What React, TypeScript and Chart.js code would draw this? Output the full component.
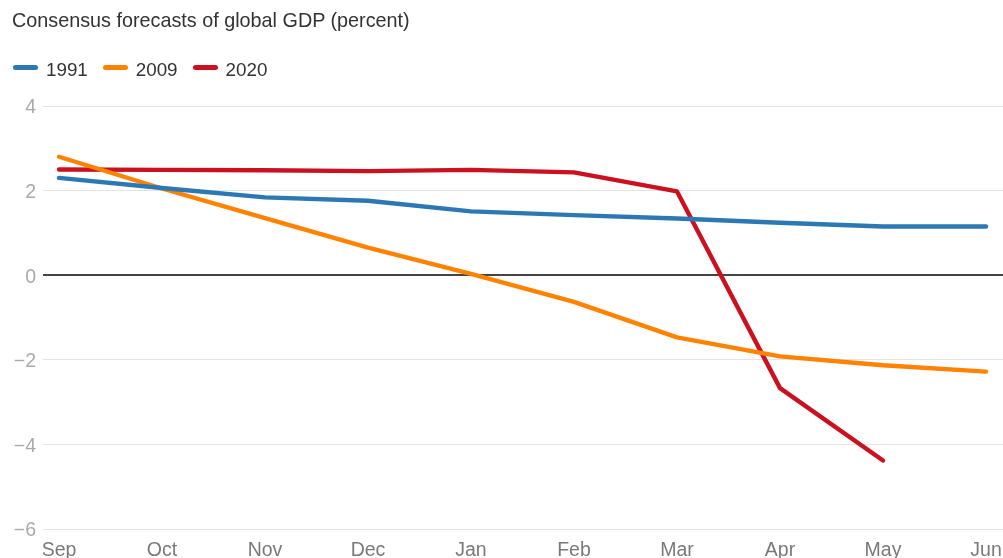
import React, { useEffect, useRef } from "react";
import { Chart, registerables } from "chart.js";

Chart.register(...registerables);

const TITLE = "Consensus forecasts of global GDP (percent)";
const months = ["Sep", "Oct", "Nov", "Dec", "Jan", "Feb", "Mar", "Apr", "May", "Jun"];
const seriesNames = ["1991", "2009", "2020"];
const seriesColors = ["#2b78b4", "#ff8200", "#cb1020"];
const values1991 = [2.3, 2.06, 1.84, 1.76, 1.51, 1.42, 1.34, 1.24, 1.15, 1.15];
const values2009 = [2.8, 2.05, 1.35, 0.65, 0.03, -0.63, -1.47, -1.92, -2.13, -2.28];
const values2020: (number | null)[] = [2.5, 2.49, 2.48, 2.46, 2.49, 2.43, 1.98, -2.67, -4.38, null];
const yTicks = [4, 2, 0, -2, -4, -6];

const FONT = "'Liberation Sans', Arial, Helvetica, sans-serif";

export default function App() {
  const canvasRef = useRef<HTMLCanvasElement | null>(null);

  useEffect(() => {
    const canvas = canvasRef.current;
    if (!canvas) return;
    const all = [values1991, values2009, values2020];
    const chart = new Chart(canvas, {
      type: "line",
      data: {
        datasets: all.map((vals, i) => ({
          label: seriesNames[i],
          data: vals.map((v, j) => ({ x: j, y: v })),
          borderColor: seriesColors[i],
          backgroundColor: seriesColors[i],
          borderWidth: 4.4,
          pointRadius: 0,
          tension: 0,
          borderCapStyle: "round",
          borderJoinStyle: "round",
          spanGaps: false,
        })),
      },
      options: {
        animation: false,
        responsive: false,
        maintainAspectRatio: false,
        layout: { padding: { top: 106, left: 0, right: 0, bottom: 0 } },
        plugins: {
          legend: { display: false },
          title: { display: false },
          tooltip: { enabled: false },
        },
        scales: {
          x: {
            type: "linear",
            min: -0.1553,
            max: 9.165,
            afterBuildTicks: (axis: any) => {
              axis.ticks = months.map((_, i) => ({ value: i }));
            },
            afterFit: (axis: any) => {
              axis.height = 29;
            },
            grid: {
              display: true,
              drawOnChartArea: false,
              drawTicks: true,
              tickLength: 10,
              tickColor: "rgba(0,0,0,0)",
            },
            border: { display: false },
            ticks: {
              padding: 0,
              autoSkip: false,
              maxRotation: 0,
              color: "#7a7a7a",
              font: { family: FONT, size: 19.5 },
              callback: (v: any) => months[Math.round(Number(v))] ?? "",
            },
          },
          y: {
            min: -6,
            max: 4,
            afterBuildTicks: (axis: any) => {
              axis.ticks = yTicks.map((v) => ({ value: v }));
            },
            afterFit: (axis: any) => {
              axis.width = 43;
            },
            grid: {
              drawTicks: false,
              color: (ctx: any) => (ctx.tick && ctx.tick.value === 0 ? "#444444" : "#e4e4e4"),
              lineWidth: (ctx: any) => (ctx.tick && ctx.tick.value === 0 ? 2 : 1),
            },
            border: { display: false },
            ticks: {
              padding: 7,
              labelOffset: 2,
              color: "#aaaaaa",
              font: { family: FONT, size: 19.5 },
              callback: (v: any) => {
                const n = Number(v);
                return n < 0 ? "\u2212" + Math.abs(n) : String(n);
              },
            },
          },
        },
      },
    });
    return () => chart.destroy();
  }, []);

  return (
    <div style={{ position: "fixed", left: 0, top: 0, width: 1003, height: 558, background: "#fff", overflow: "hidden" }}>
      <canvas ref={canvasRef} width={1003} height={558} style={{ position: "absolute", left: 0, top: 0, width: 1003, height: 558 }} />
      <div
        style={{
          position: "absolute",
          left: 12,
          top: 10,
          fontFamily: FONT,
          fontSize: 19.8,
          lineHeight: "20px",
          color: "#333333",
          whiteSpace: "nowrap",
        }}
      >
        {TITLE}
      </div>
      <div
        style={{
          position: "absolute",
          left: 13,
          top: 58,
          height: 20,
          display: "flex",
          alignItems: "center",
          fontFamily: FONT,
          fontSize: 18.8,
          lineHeight: "20px",
          color: "#333333",
          whiteSpace: "nowrap",
        }}
      >
        {seriesNames.map((name, i) => (
          <div key={name} style={{ display: "flex", alignItems: "center", marginRight: 15 }}>
            <span
              style={{
                display: "inline-block",
                width: 25,
                height: 5,
                borderRadius: 2.5,
                background: seriesColors[i],
                marginRight: 8,
                marginTop: -2,
              }}
            />
            <span style={{ position: "relative", top: 1.5 }}>{name}</span>
          </div>
        ))}
      </div>
    </div>
  );
}
